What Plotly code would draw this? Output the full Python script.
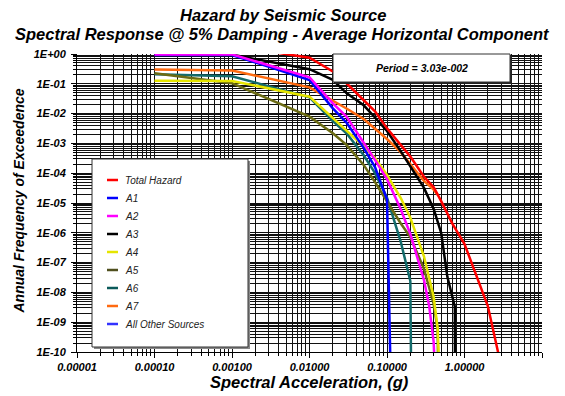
import plotly.graph_objects as go

# ---- hazard curves: spectral acceleration (g) vs annual frequency of exceedence ----
sa_total = [0.0001, 0.001, 0.01, 0.02, 0.03, 0.05, 0.07, 0.1, 0.15, 0.2, 0.3, 0.4, 0.5, 0.7, 1.0, 2.0, 3.0]
afe_total = [2.4, 1.9, 0.75, 0.26, 0.104, 0.029, 0.012, 3.2e-3, 8.9e-4, 3.6e-4, 7.6e-5, 3.4e-5,
             1.15e-5, 2.0e-6, 4.2e-7, 3.5e-9, 3.0e-11]

sa_a1 = [0.0001, 0.001, 0.01, 0.02, 0.03, 0.05, 0.07, 0.1, 0.114]
afe_a1 = [0.93, 0.93, 0.134, 0.015, 5.0e-3, 7.1e-4, 1.6e-4, 1.3e-5, 1e-12]

sa_a2 = [0.0001, 0.001, 0.01, 0.02, 0.03, 0.05, 0.07, 0.1, 0.15, 0.2, 0.3, 0.35, 0.4, 0.42]
afe_a2 = [0.97, 0.97, 0.166, 0.022, 7.9e-3, 1.12e-3, 2.8e-4, 6.3e-5, 6.3e-6, 9.1e-7, 2.6e-8,
          3.5e-9, 2.2e-10, 1e-11]

sa_a3 = [0.0001, 0.001, 0.01, 0.02, 0.03, 0.05, 0.07, 0.1, 0.15, 0.2, 0.3, 0.4, 0.5, 0.6, 0.75, 0.76]
afe_a3 = [0.95, 0.95, 0.31, 0.135, 0.049, 0.019, 7.4e-3, 2.6e-3, 5.5e-4, 1.7e-4, 3.2e-5, 6.3e-6,
          1.0e-6, 3.4e-8, 3.3e-9, 1e-14]

sa_a4 = [0.0001, 0.001, 0.01, 0.02, 0.03, 0.05, 0.07, 0.1, 0.15, 0.2, 0.3, 0.4, 0.45, 0.48]
afe_a4 = [0.127, 0.125, 0.037, 7.1e-3, 2.8e-3, 7.9e-4, 3.2e-4, 8.7e-5, 1.5e-5, 3.2e-6, 1.6e-7,
          7.1e-9, 6.3e-10, 1e-11]

sa_a5 = [0.0001, 0.001, 0.01, 0.02, 0.03, 0.05, 0.07, 0.1, 0.15, 0.2, 0.3, 0.4, 0.45, 0.46]
afe_a5 = [0.224, 0.105, 7.9e-3, 2.2e-3, 8.9e-4, 1.9e-4, 5.0e-5, 1.1e-5, 2.1e-6, 7.2e-7, 6.2e-8,
          4.1e-9, 5.9e-10, 1e-11]

sa_a6 = [0.0001, 0.001, 0.01, 0.02, 0.03, 0.05, 0.07, 0.1, 0.15, 0.2, 0.21]
afe_a6 = [0.21, 0.18, 0.035, 5.6e-3, 2.2e-3, 4.0e-4, 1.0e-4, 1.5e-5, 5.2e-7, 2.4e-8, 1e-14]

sa_a7 = [0.0001, 0.001, 0.01, 0.02, 0.03, 0.05, 0.07, 0.1, 0.15, 0.2, 0.3, 0.4, 0.45]
afe_a7 = [0.30, 0.28, 0.076, 0.0275, 0.0148, 6.6e-3, 3.2e-3, 1.4e-3, 5.1e-4, 1.95e-4, 5.5e-5,
          2.8e-5, 1.9e-5]

legend_names = ["Total Hazard", "A1", "A2", "A3", "A4", "A5", "A6", "A7", "All Other Sources"]
legend_colors = ["#FF0000", "#0000FF", "#FF00FF", "#000000", "#E5E500", "#4F4F1E",
                 "#0B5A5A", "#FF6A10", "#3333FF"]

x_tickvals = [1e-5, 1e-4, 1e-3, 1e-2, 1e-1, 1, 10]
x_ticktext = ["0.00001", "0.00010", "0.00100", "0.01000", "0.10000", "1.00000", "10.00000"]
y_tickvals = [10.0 ** -k for k in range(0, 11)]
y_ticktext = ["1E+00", "1E-01", "1E-02", "1E-03", "1E-04", "1E-05",
              "1E-06", "1E-07", "1E-08", "1E-09", "1E-10"]

period_label = "Period = 3.03e-002"

# ---- figure geometry (pixels) ----
W, H = 565, 396
ML, MR, MT, MB = 77, 23, 54, 44
PW, PH = W - ML - MR, H - MT - MB


def px(xp):
    return (xp - ML) / PW


def py(yp):
    return (H - MB - yp) / PH


FONT = "Liberation Sans, Arial, sans-serif"

fig = go.Figure()

series = [
    ("A7", sa_a7, afe_a7, "#FF6A10"),
    ("A6", sa_a6, afe_a6, "#136B6B"),
    ("A5", sa_a5, afe_a5, "#6B6B14"),
    ("A4", sa_a4, afe_a4, "#E5E500"),
    ("A3", sa_a3, afe_a3, "#000000"),
    ("A1", sa_a1, afe_a1, "#0000FF"),
    ("A2", sa_a2, afe_a2, "#FF00FF"),
    ("Total Hazard", sa_total, afe_total, "#FF0000"),
]
for name, xs, ys, col in series:
    fig.add_trace(go.Scatter(x=xs, y=ys, mode="lines", name=name,
                             line=dict(color=col, width=2.5), showlegend=False))

GRID = "#111111"
fig.update_xaxes(
    type="log", range=[-5, 1], tickmode="array", tickvals=x_tickvals, ticktext=x_ticktext,
    showgrid=True, gridcolor=GRID, gridwidth=1,
    ticks="outside", ticklen=5, tickcolor="black",
    showline=True, linecolor="black", linewidth=1, zeroline=False,
    tickfont=dict(family=FONT, size=11, color="black", weight="bold", style="italic"),
    minor=dict(dtick="D1", showgrid=True, gridcolor=GRID, gridwidth=1,
               ticks="outside", ticklen=3, tickcolor="black"),
)
fig.update_yaxes(
    type="log", range=[-10, 0], tickmode="array", tickvals=y_tickvals, ticktext=y_ticktext,
    showgrid=True, gridcolor=GRID, gridwidth=1,
    ticks="outside", ticklen=5, tickcolor="black",
    showline=True, linecolor="black", linewidth=1, zeroline=False,
    tickfont=dict(family=FONT, size=11, color="black", weight="bold", style="italic"),
    ticklabelstandoff=3,
    minor=dict(dtick="D1", showgrid=True, gridcolor=GRID, gridwidth=1,
               ticks="outside", ticklen=3, tickcolor="black"),
)

shapes = []
# legend box with a soft shadow
lb = (92, 159, 248, 347)
shapes.append(dict(type="rect", xref="paper", yref="paper", layer="above",
                   x0=px(lb[0] + 2), x1=px(lb[2] + 2), y0=py(lb[3] + 2), y1=py(lb[1] + 2),
                   fillcolor="#888888", line=dict(width=0)))
shapes.append(dict(type="rect", xref="paper", yref="paper", layer="above",
                   x0=px(lb[0]), x1=px(lb[2]), y0=py(lb[3]), y1=py(lb[1]),
                   fillcolor="white", line=dict(color="#333333", width=1)))
# period box with a dark shadow
pb = (333, 54, 510, 82)
shapes.append(dict(type="rect", xref="paper", yref="paper", layer="above",
                   x0=px(pb[0] + 2), x1=px(pb[2] + 2), y0=py(pb[3] + 2), y1=py(pb[1] + 2),
                   fillcolor="#222222", line=dict(width=0)))
shapes.append(dict(type="rect", xref="paper", yref="paper", layer="above",
                   x0=px(pb[0]), x1=px(pb[2]), y0=py(pb[3]), y1=py(pb[1]),
                   fillcolor="white", line=dict(color="#333333", width=1)))

annotations = []
for i, (nm, col) in enumerate(zip(legend_names, legend_colors)):
    yy = 180 + 18 * i
    shapes.append(dict(type="line", xref="paper", yref="paper", layer="above",
                       x0=px(107), x1=px(118), y0=py(yy), y1=py(yy),
                       line=dict(color=col, width=2.5)))
    annotations.append(dict(text=nm, xref="paper", yref="paper", x=px(123), y=py(yy),
                            xanchor="left", yanchor="middle", showarrow=False,
                            font=dict(family=FONT, size=10, color="#222222", style="italic")))

annotations.append(dict(text=period_label, xref="paper", yref="paper",
                        x=px(421.5), y=py(67.5), xanchor="center", yanchor="middle",
                        showarrow=False,
                        font=dict(family=FONT, size=10.5, color="black", weight="bold", style="italic")))

# two-line chart heading
annotations.append(dict(text="Hazard by Seismic Source", xref="paper", yref="paper",
                        x=px(283), y=py(15), xanchor="center", yanchor="middle", showarrow=False,
                        font=dict(family=FONT, size=16.5, color="black", weight="bold", style="italic")))
annotations.append(dict(text="Spectral Response @ 5% Damping - Average Horizontal Component",
                        xref="paper", yref="paper", x=px(282), y=py(34),
                        xanchor="center", yanchor="middle", showarrow=False,
                        font=dict(family=FONT, size=16.5, color="black", weight="bold", style="italic")))
annotations.append(dict(text="Spectral Acceleration, (g)", xref="paper", yref="paper",
                        x=px(309), y=py(382), xanchor="center", yanchor="middle", showarrow=False,
                        font=dict(family=FONT, size=16.5, color="black", weight="bold", style="italic")))
annotations.append(dict(text="Annual Frequency of Exceedence", xref="paper", yref="paper",
                        x=px(18.5), y=py(201), xanchor="center", yanchor="middle", showarrow=False,
                        textangle=-90,
                        font=dict(family=FONT, size=14, color="black", weight="bold", style="italic")))

fig.update_layout(
    width=W, height=H,
    margin=dict(l=ML, r=MR, t=MT, b=MB),
    paper_bgcolor="white", plot_bgcolor="white",
    showlegend=False,
    shapes=shapes, annotations=annotations,
)

fig.write_html("out.html")
